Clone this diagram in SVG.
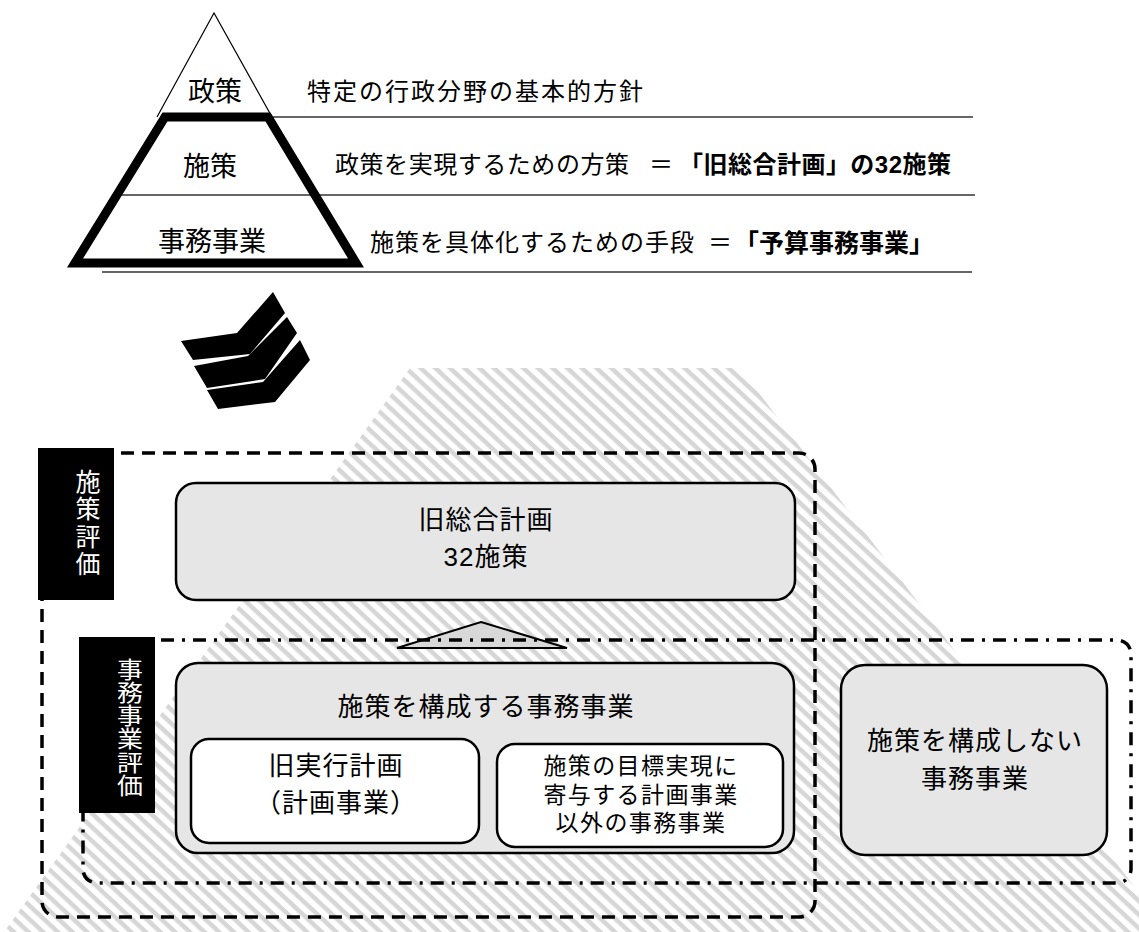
<svg xmlns="http://www.w3.org/2000/svg" width="1139" height="932" viewBox="0 0 1139 932">
<defs>
<pattern id="hatch" width="10" height="10" patternUnits="userSpaceOnUse" patternTransform="rotate(43)">
<rect width="10" height="10" fill="#ffffff"/>
<rect width="10" height="4.5" fill="#d6d6d6"/>
</pattern>
</defs>
<style>
.sf{font-family:"Liberation Serif","Noto Sans CJK JP",serif;fill:#000}
.ss{font-family:"Liberation Sans","Noto Sans CJK JP",sans-serif;fill:#000}
.c{text-anchor:middle;dominant-baseline:central}
.mid{dominant-baseline:central}
.lbl{font-size:27px}
.desc{font-size:24px}
.bold{font-size:24px;font-weight:bold}
.n{font-size:26px;letter-spacing:1px}
.s{font-size:23px;letter-spacing:1.4px}
.w{fill:#fff}
.rule{stroke:#333;stroke-width:1.6;fill:none}
.gbox{fill:#e6e6e6;stroke:#000;stroke-width:2.5}
.wbox{fill:#fff;stroke:#000;stroke-width:2.5}
.dash{fill:none;stroke:#000;stroke-width:3.5;stroke-dasharray:13 8}
.dashdot{fill:none;stroke:#000;stroke-width:3.5;stroke-dasharray:13 8 3 8}
</style>

<g id="background">
<polygon points="410,368 740,368 1139,893 1139,932 4,932" fill="url(#hatch)"/>
</g>

<g id="pyramid">
<line class="rule" x1="273" y1="117" x2="973" y2="117"/>
<line class="rule" x1="122" y1="195" x2="975" y2="195"/>
<line class="rule" x1="102" y1="272" x2="972" y2="272"/>
<polyline points="157,117 214,13 272,117" fill="none" stroke="#000" stroke-width="1.2"/>
<polygon points="165,117 268,117 356,263 75,263" fill="none" stroke="#000" stroke-width="9" stroke-linejoin="miter"/>
<text class="sf lbl c" x="215" y="92">政策</text>
<text class="sf lbl c" x="210" y="167">施策</text>
<text class="sf lbl c" x="212" y="242">事務事業</text>
<text class="sf desc mid" x="307" y="92" textLength="336" lengthAdjust="spacing">特定の行政分野の基本的方針</text>
<text class="sf desc mid" x="335" y="165" textLength="294" lengthAdjust="spacing">政策を実現するための方策</text>
<text class="sf desc c" x="661" y="165">＝</text>
<text class="ss bold mid" x="679" y="164" textLength="272" lengthAdjust="spacing">「旧総合計画」の32施策</text>
<text class="sf desc mid" x="370" y="243" textLength="324" lengthAdjust="spacing">施策を具体化するための手段</text>
<text class="sf desc c" x="720" y="243">＝</text>
<text class="ss mid" style="font-size:25px;font-weight:bold" x="734" y="243">「予算事務事業」</text>
</g>

<g id="connectors">
<g id="chevron-arrow" fill="#000">
<polygon points="181,341 237,333 273,292 285,313 250,354 193,360"/>
<polygon points="194,366 248,356 287,317 297,333 265,379 207,388"/>
<polygon points="207,390 263,382 300,340 310,360 275,402 218,409"/>
</g>
<polygon id="up-arrow" points="481,622 567,648 397,648" fill="#d8d8d8" stroke="#000" stroke-width="2"/>
</g>

<g id="region-policy-eval">
<rect class="dash" x="42" y="453" width="773" height="464" rx="16"/>
</g>
<g id="region-project-eval">
<rect class="dashdot" x="83" y="640" width="1048" height="243" rx="14"/>
</g>

<g id="label-policy-eval">
<rect x="38" y="448" width="76" height="152" fill="#000"/>
<text class="ss c w" style="font-size:25px">
<tspan x="88" y="482">施</tspan><tspan x="88" y="509">策</tspan><tspan x="88" y="537">評</tspan><tspan x="88" y="564">価</tspan>
</text>
</g>

<g id="label-project-eval">
<rect x="79" y="637" width="76" height="176" fill="#000"/>
<text class="ss c w" style="font-size:26px" transform="translate(130,658) scale(1,0.86)">
<tspan x="0" y="13.5">事</tspan><tspan x="0" y="40.4">務</tspan><tspan x="0" y="67.4">事</tspan><tspan x="0" y="94.4">業</tspan><tspan x="0" y="121.3">評</tspan><tspan x="0" y="148.3">価</tspan>
</text>
</g>

<g id="node-sogo">
<rect class="gbox" x="176" y="483" width="619" height="117" rx="20"/>
<text class="ss n c" x="486" y="520">旧総合計画</text>
<text class="ss n c" x="486" y="557">32施策</text>
</g>

<g id="node-koseisuru">
<rect class="gbox" x="176" y="663" width="618" height="190" rx="22"/>
<text class="ss n c" x="486" y="707">施策を構成する事務事業</text>
</g>

<g id="node-jikko">
<rect class="wbox" x="191" y="739" width="288" height="104" rx="18"/>
<text class="ss n c" x="336" y="766">旧実行計画</text>
<text class="ss n c" x="336" y="803">（計画事業）</text>
</g>

<g id="node-sonota">
<rect class="wbox" x="497" y="744" width="286" height="103" rx="18"/>
<text class="ss s c" x="641" y="766">施策の目標実現に</text>
<text class="ss s c" x="641" y="795">寄与する計画事業</text>
<text class="ss s c" x="641" y="823">以外の事務事業</text>
</g>

<g id="node-koseishinai">
<rect class="gbox" x="841" y="665" width="266" height="190" rx="24"/>
<text class="ss n c" x="975" y="741">施策を構成しない</text>
<text class="ss n c" x="975" y="779">事務事業</text>
</g>
</svg>
